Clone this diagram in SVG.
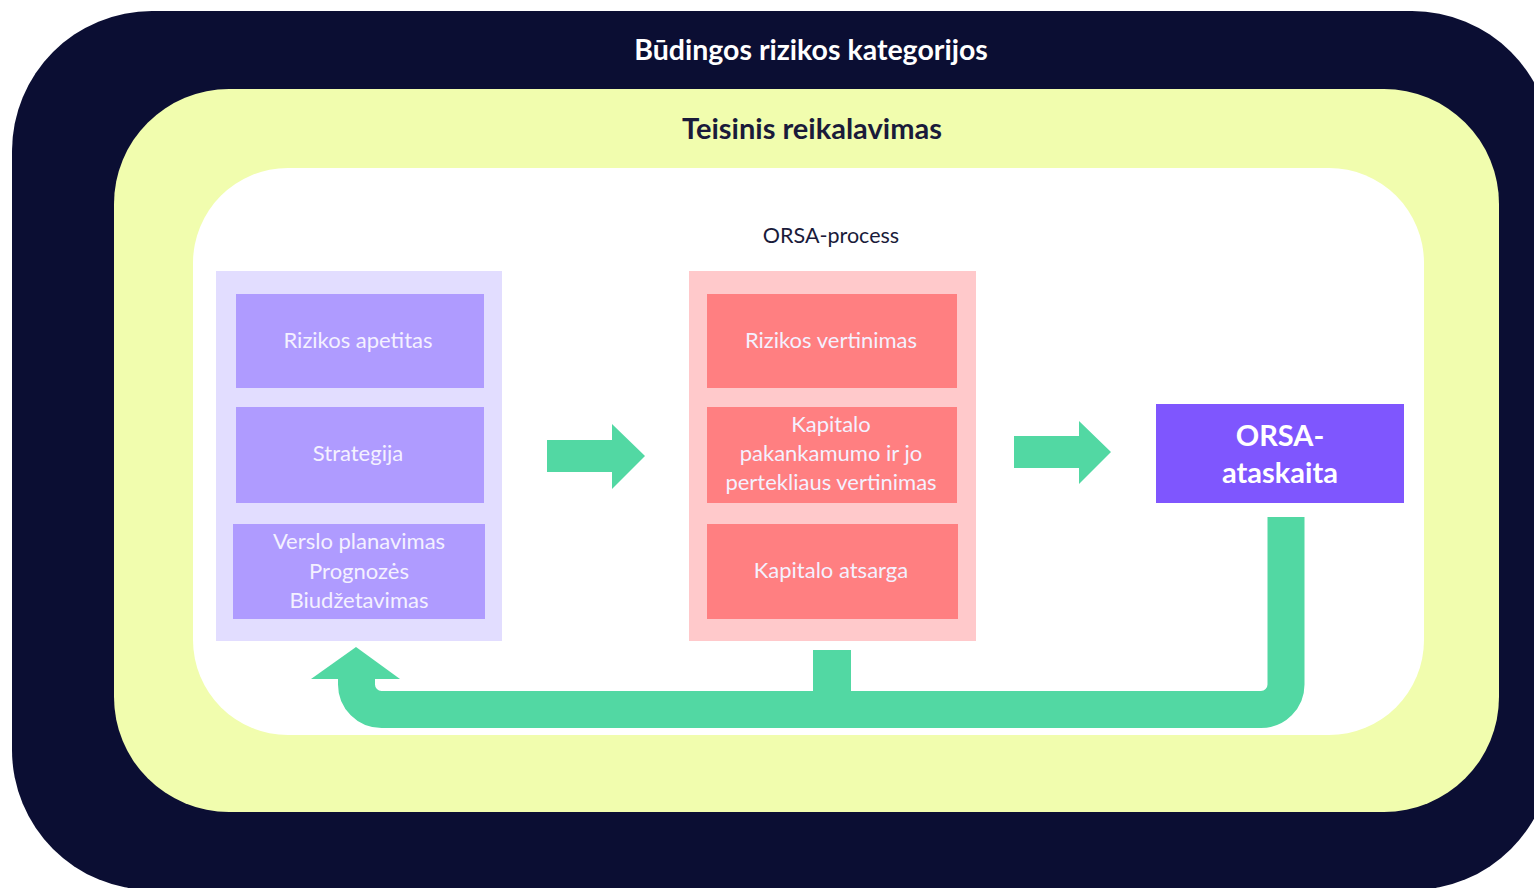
<svg xmlns="http://www.w3.org/2000/svg" width="1534" height="888" viewBox="0 0 1534 888">
  <style>
    .t { font-family: Lato, "Open Sans", "Liberation Sans", sans-serif; text-anchor: middle; }
    .box-t { font-size: 22px; fill: #F4F1FF; }
    .green { fill: #52D8A3; }
  </style>
  <rect x="0" y="0" width="1534" height="888" fill="#FFFFFF"/>
  <g id="outer">
    <rect x="12" y="11" width="1540" height="879" rx="140" ry="140" fill="#0B0E33"/>
    <text class="t" x="811" y="60" font-size="28.5" font-weight="bold" fill="#FFFFFF">Būdingos rizikos kategorijos</text>
  </g>
  <g id="legal">
    <rect x="114" y="89" width="1385" height="723" rx="115" ry="115" fill="#F1FDAE"/>
    <text class="t" x="812" y="139" font-size="29" font-weight="bold" fill="#1A1B3A">Teisinis reikalavimas</text>
  </g>
  <g id="orsa-process">
    <rect x="193" y="168" width="1231" height="567" rx="95" ry="95" fill="#FFFFFF"/>
    <text class="t" x="831" y="243" font-size="21.5" fill="#1A1B3A">ORSA-process</text>
  </g>
  <g id="left-panel">
    <rect x="216" y="271" width="286" height="370" fill="#E2DDFF"/>
  </g>
  <g id="rizikos-apetitas">
    <rect x="236" y="294" width="248" height="94" fill="#AF9BFF"/>
    <text class="t box-t" x="358" y="348">Rizikos apetitas</text>
  </g>
  <g id="strategija">
    <rect x="236" y="407" width="248" height="96" fill="#AF9BFF"/>
    <text class="t box-t" x="358" y="461">Strategija</text>
  </g>
  <g id="verslo">
    <rect x="233" y="524" width="252" height="95" fill="#AF9BFF"/>
    <text class="t box-t" x="359" y="549">Verslo planavimas</text>
    <text class="t box-t" x="359" y="579">Prognozės</text>
    <text class="t box-t" x="359" y="608">Biudžetavimas</text>
  </g>
  <g id="middle-panel">
    <rect x="689" y="271" width="287" height="370" fill="#FFC9CB"/>
  </g>
  <g id="rizikos-vertinimas">
    <rect x="707" y="294" width="250" height="94" fill="#FF7F81"/>
    <text class="t box-t" x="831" y="348">Rizikos vertinimas</text>
  </g>
  <g id="kapitalo-pakankamumo">
    <rect x="707" y="407" width="250" height="96" fill="#FF7F81"/>
    <text class="t box-t" x="831" y="432">Kapitalo</text>
    <text class="t box-t" x="831" y="461">pakankamumo ir jo</text>
    <text class="t box-t" x="831" y="490">pertekliaus vertinimas</text>
  </g>
  <g id="kapitalo-atsarga">
    <rect x="707" y="524" width="251" height="95" fill="#FF7F81"/>
    <text class="t box-t" x="831" y="578">Kapitalo atsarga</text>
  </g>
  <g id="orsa-ataskaita">
    <rect x="1156" y="404" width="248" height="99" fill="#7F56FE"/>
    <text class="t" x="1280" y="446" font-size="29" font-weight="bold" fill="#FFFFFF">ORSA-</text>
    <text class="t" x="1280" y="483" font-size="29" font-weight="bold" fill="#FFFFFF">ataskaita</text>
  </g>
  <g id="connectors">
    <polygon class="green" points="547,440 612,440 612,424 645,456 612,489 612,472 547,472"/>
    <polygon class="green" points="1014,436 1079,436 1079,421 1111,452 1079,484 1079,468 1014,468"/>
    <path d="M1286 517 V684.5 A25 25 0 0 1 1261 709.5 H381.5 A25 25 0 0 1 356.5 684.5 V677" fill="none" stroke="#52D8A3" stroke-width="37"/>
    <polygon class="green" points="311,679 400,679 356,647"/>
    <rect class="green" x="813" y="650" width="38" height="45"/>
  </g>
</svg>
